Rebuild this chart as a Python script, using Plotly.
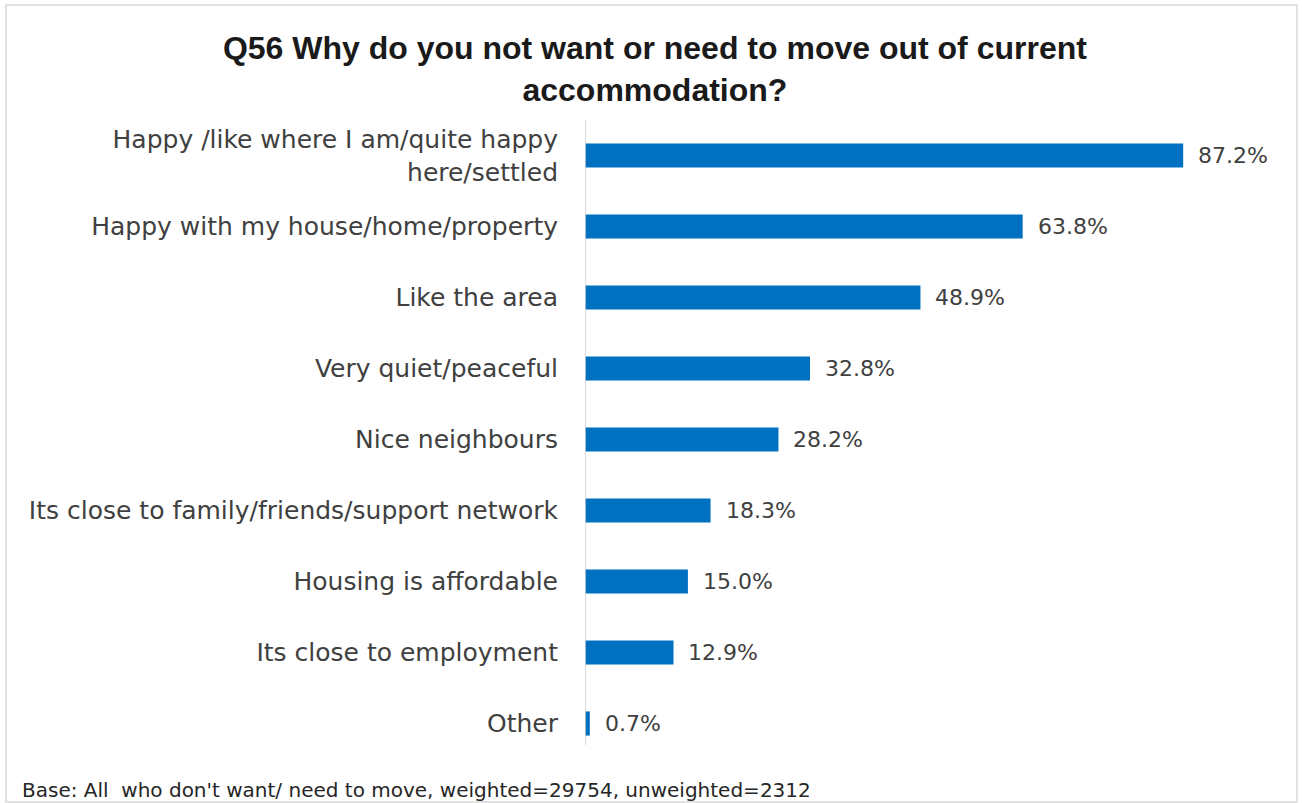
import plotly.graph_objects as go

categories = [
    "Happy /like where I am/quite happy<br>here/settled",
    "Happy with my house/home/property",
    "Like the area",
    "Very quiet/peaceful",
    "Nice neighbours",
    "Its close to family/friends/support network",
    "Housing is affordable",
    "Its close to employment",
    "Other",
]
values = [87.2, 63.8, 48.9, 32.8, 28.2, 18.3, 15.0, 12.9, 0.7]
value_labels = [f"{v:.1f}%" for v in values]

BAR = "#0070C0"
TXT = "#404040"
FONT = "DejaVu Sans"

W, H = 1302, 803
ML, MR, MT, MB = 585, 31, 120, 44

fig = go.Figure()
fig.add_trace(go.Bar(
    y=categories, x=values, orientation="h",
    marker=dict(color=BAR, line=dict(width=0)),
    width=0.34, hoverinfo="skip",
))

for c, v, t in zip(categories, values, value_labels):
    fig.add_annotation(x=v, y=c, text=t, showarrow=False, xanchor="left",
                       xshift=13, font=dict(family=FONT, size=22, color=TXT))

pw = W - ML - MR
ph = H - MT - MB
# outer light frame
fig.add_shape(type="rect", xref="paper", yref="paper",
              x0=(6 - ML) / pw, x1=(1297 - ML) / pw,
              y0=(H - MB - 802) / ph, y1=(H - MB - 5) / ph,
              line=dict(color="#D9D9D9", width=1.5), fillcolor="rgba(0,0,0,0)", layer="below")
# zero axis line
fig.add_shape(type="line", xref="x", yref="paper", x0=0, x1=0,
              y0=(H - MB - 745) / ph, y1=1, line=dict(color="#D0D0D0", width=1.5))

fig.add_annotation(xref="paper", yref="paper", x=(20 - ML) / pw, y=(H - MB - 790) / ph,
                   xanchor="left", yanchor="middle", showarrow=False,
                   text="Base: All  who don't want/ need to move, weighted=29754, unweighted=2312",
                   font=dict(family=FONT, size=20, color="#262626"))

fig.update_layout(
    width=W, height=H,
    margin=dict(l=ML, r=MR, t=MT, b=MB),
    paper_bgcolor="white", plot_bgcolor="white",
    title=dict(text="<b>Q56 Why do you not want or need to move out of current<br>accommodation?</b>",
               x=0.503, xanchor="center", y=1 - 59 / H, yanchor="middle",
               font=dict(family="Liberation Sans", size=32, color="#1a1a1a")),
    xaxis=dict(range=[0, 100], showgrid=False, zeroline=False, showticklabels=False,
               showline=False, ticks=""),
    yaxis=dict(autorange="reversed", showgrid=False, showline=False, ticks="",
               ticklabelstandoff=26,
               tickfont=dict(family=FONT, size=25, color=TXT)),
    showlegend=False,
    bargap=0.66,
)

fig.write_html("out.html", config={"displayModeBar": False},
               post_script="document.body.style.margin='0';")
